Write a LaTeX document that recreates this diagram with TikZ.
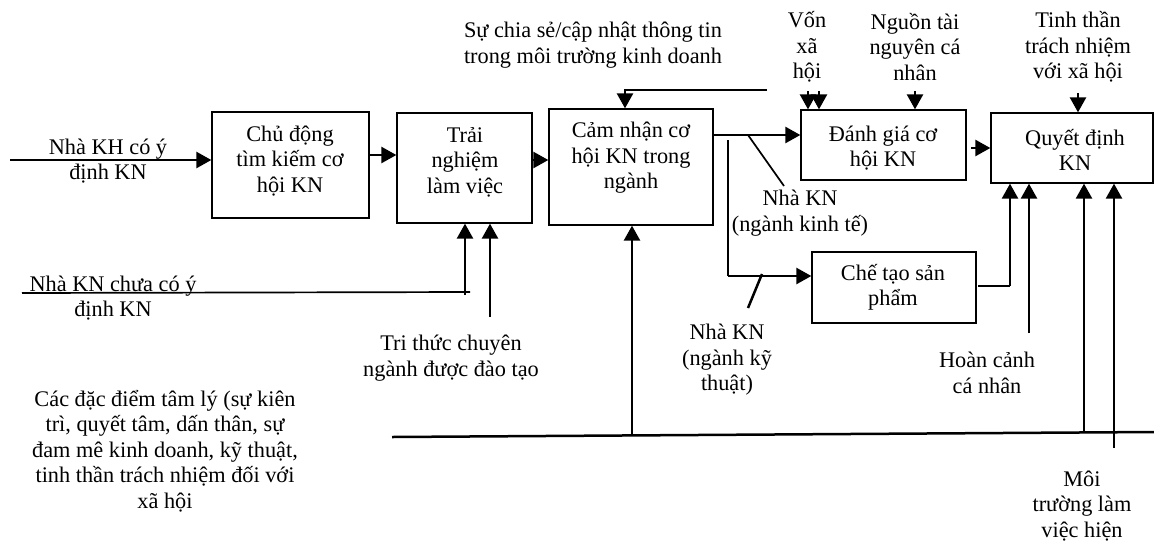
\documentclass[tikz,border=0pt]{standalone}
\usepackage{fontspec}
\setmainfont{Liberation Serif}
\usetikzlibrary{arrows.meta}
\tikzset{
  box/.style={draw, line width=1.3pt, rectangle, inner sep=0pt},
  txt/.style={align=center, inner sep=0pt, font=\fontsize{22.3}{25.4}\selectfont},
  conn/.style={line width=2.5pt},
  thin/.style={line width=1.7pt},
  arr/.style={line width=2.5pt, -{Triangle[length=15pt,width=16pt]}},
}
\begin{document}
\begin{tikzpicture}[x=1pt,y=-1pt]
\useasboundingbox (0,0) rectangle (1154,542);
% boxes
\node[box, minimum width=157, minimum height=106] (b1) at (290.5,165) {};
\node[box, minimum width=135, minimum height=110] (b2) at (464.5,168) {};
\node[box, minimum width=164, minimum height=116] (b3) at (631,167) {};
\node[box, minimum width=165, minimum height=70] (b4) at (883.5,145) {};
\node[box, minimum width=162, minimum height=70] (b5) at (1072,148) {};
\node[box, minimum width=164, minimum height=71] (b6) at (894,287.5) {};
% box texts
\node[txt] (t1) at (290,161) {Chủ động\\tìm kiếm cơ\\hội KN};
\node[txt] (t2) at (465,162) {Trải\\nghiệm\\làm việc};
\node[txt] (t3) at (631,158) {Cảm nhận cơ\\hội KN trong\\ngành};
\node[txt] (t4) at (883,148) {Đánh giá cơ\\hội KN};
\node[txt] (t5) at (1075,150) {Quyết định\\KN};
\node[txt] (t6) at (893,287.5) {Chế tạo sản\\phẩm};
% labels
\node[txt] (l1) at (108,161) {Nhà KH có ý\\định KN};
\node[txt] (l2) at (113,298) {Nhà KN chưa có ý\\định KN};
\node[txt] (l3) at (451,358) {Tri thức chuyên\\ngành được đào tạo};
\node[txt] (l4) at (165,451) {Các đặc điểm tâm lý (sự kiên\\trì, quyết tâm, dấn thân, sự\\đam mê kinh doanh, kỹ thuật,\\tinh thần trách nhiệm đối với\\xã hội};
\node[txt] (l5) at (593,45) {Sự chia sẻ/cập nhật thông tin\\trong môi trường kinh doanh};
\node[txt] (l6) at (807,47) {Vốn\\xã\\hội};
\node[txt] (l7) at (915,47) {Nguồn tài\\nguyên cá\\nhân};
\node[txt] (l8) at (1078,47) {Tinh thần\\trách nhiệm\\với xã hội};
\node[txt] (l9) at (800,213) {Nhà KN\\(ngành kinh tế)};
\node[txt] (l10) at (727,360) {Nhà KN\\(ngành kỹ\\thuật)};
\node[txt] (l11) at (987,373) {Hoàn cảnh\\cá nhân};
\node[txt] (l12) at (1082,506) {Môi\\trường làm\\việc hiện};
% coordinates
\coordinate (in1) at (10,160);
\coordinate (in2a) at (22,293);
\coordinate (in2b) at (470,292);
\coordinate (k1) at (465,295);
\coordinate (k2) at (490,317);
\coordinate (bl1) at (392,437);
\coordinate (bl2) at (1154,432);
\coordinate (p1) at (632,435);
\coordinate (fb) at (767,90);
\coordinate (fc) at (625,90);
\coordinate (v1) at (808,91);
\coordinate (v2) at (819,91);
\coordinate (n1) at (915,91);
\coordinate (s1) at (1078,93);
\coordinate (e1) at (713,135);
\coordinate (d1) at (748,135);
\coordinate (d2) at (784,186);
\coordinate (vt) at (728,140);
\coordinate (vb) at (728,276);
\coordinate (tk1) at (762,274);
\coordinate (tk2) at (748,308);
\coordinate (c1) at (978,286);
\coordinate (c2) at (1010,286);
\coordinate (h1) at (1029,333);
\coordinate (m1) at (1084,433);
\coordinate (m2) at (1114,448);
\coordinate (o1) at (971,148);
% connectors
\draw[arr] (in1) -- (in1 -| b1.west);
\draw[arr] (b1.east |- 0,155) -- (b2.west |- 0,155);
\draw[arr] (b2.east |- 0,160) -- (b3.west |- 0,160);
\draw[arr] (e1) -- (e1 -| b4.west);
\draw[thin] (d1) -- (d2);
\draw[conn] (vt) -- (vb);
\draw[arr] (vb) -- (vb -| b6.west);
\draw[conn] (tk1) -- (tk2);
\draw[conn] (c1) -- (c2);
\draw[arr] (c2) -- (c2 |- b5.south);
\draw[arr] (h1) -- (h1 |- b5.south);
\draw[arr] (m1) -- (m1 |- b5.south);
\draw[arr] (m2) -- (m2 |- b5.south);
\draw[conn] (bl1) -- (bl2);
\draw[arr] (p1) -- (p1 |- b3.south);
\draw[thin] (in2a) -- (in2b);
\draw[arr] (k1) -- (k1 |- b2.south);
\draw[arr] (k2) -- (k2 |- b2.south);
\draw[arr] (fb) -- (fc) -- (fc |- b3.north);
\draw[arr] (v1) -- (v1 |- b4.north);
\draw[arr] (v2) -- (v2 |- b4.north);
\draw[arr] (n1) -- (n1 |- b4.north);
\draw[arr] (s1) -- (s1 |- b5.north);
\draw[arr] (o1) -- (o1 -| b5.west);
\end{tikzpicture}
\end{document}
